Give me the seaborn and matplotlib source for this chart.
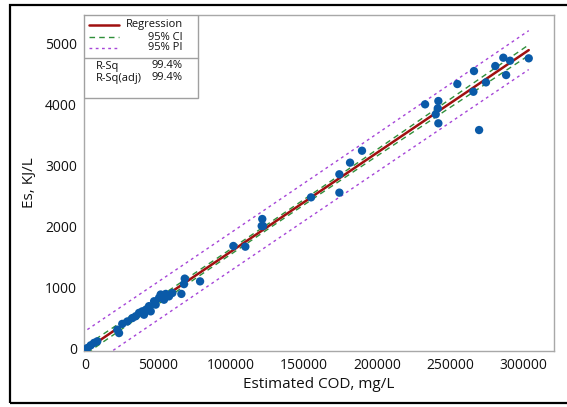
import numpy as np
import pandas as pd
import seaborn as sns
from matplotlib import pyplot as plt
from matplotlib.patches import Rectangle

# values
cod = [1600, 3900, 6200, 8400, 22100, 23300, 25500, 29000, 32400, 34700,
       37000, 39200, 40400, 41600, 43800, 45000, 47300, 48400, 50700, 51800,
       54100, 55300, 57500, 59800, 66000, 67800, 68300, 78800, 101600, 109800,
       121000, 121400, 121900, 154800, 174200, 174200, 181500, 189700, 232900, 240200,
       241600, 242000, 242000, 255000, 266000, 266400, 269900, 274600, 281000, 286500,
       288400, 291100, 303900]
es = [16, 60, 100, 125, 315, 260, 410, 450, 505, 535,
      590, 615, 560, 640, 700, 615, 780, 725, 835, 890,
      805, 900, 860, 915, 900, 1060, 1150, 1105, 1683, 1672,
      2010, 2124, 2010, 2478, 2855, 2555, 3045, 3240, 3998, 3835,
      3933, 4052, 3688, 4330, 4204, 4542, 3578, 4357, 4624, 4760,
      4477, 4711, 4750]
r_sq = 99.4
r_sq_adj = 99.4

df = pd.DataFrame({"COD": cod, "Es": es})

# least squares fit with 95% confidence / prediction bands
x = df["COD"].to_numpy(float)
y = df["Es"].to_numpy(float)
n = len(x)
b1, b0 = np.polyfit(x, y, 1)
resid = y - (b0 + b1 * x)
s = np.sqrt(np.sum(resid ** 2) / (n - 2))
t95 = 2.008
xm = x.mean()
sxx = np.sum((x - xm) ** 2)
xf = np.linspace(x.min(), x.max(), 200)
yf = b0 + b1 * xf
se_ci = s * np.sqrt(1 / n + (xf - xm) ** 2 / sxx)
se_pi = s * np.sqrt(1 + 1 / n + (xf - xm) ** 2 / sxx)

sns.set_style("white")
plt.rcParams['font.family'] = ['Open Sans', 'DejaVu Sans']

fig = plt.figure(figsize=(5.67, 4.07), dpi=100)
ax = fig.add_axes([84 / 567, 1 - 351 / 407, 470 / 567, 336 / 407])

red = "#a01010"
green = "#2f8f3a"
purple = "#a645d8"

sns.lineplot(x=xf, y=yf + t95 * se_pi, ax=ax, color=purple, lw=1, linestyle=(0, (2, 2.5)))
sns.lineplot(x=xf, y=yf - t95 * se_pi, ax=ax, color=purple, lw=1, linestyle=(0, (2, 2.5)))
sns.lineplot(x=xf, y=yf + t95 * se_ci, ax=ax, color=green, lw=1, linestyle=(0, (4, 3)))
sns.lineplot(x=xf, y=yf - t95 * se_ci, ax=ax, color=green, lw=1, linestyle=(0, (4, 3)))
sns.lineplot(x=xf, y=yf, ax=ax, color=red, lw=1.8)
sns.scatterplot(data=df, x="COD", y="Es", ax=ax, color="#0a5aa8", s=36,
                edgecolor="none", zorder=3)

ax.set_xlim(-700, 321200)
ax.set_ylim(-33, 5458)
ax.set_xticks(np.arange(0, 300001, 50000))
ax.set_yticks(np.arange(0, 5001, 1000))
ax.tick_params(axis="both", direction="out", length=3, width=0.8, color="#909090",
               labelsize=10, pad=2, labelcolor="#111111")
for sp in ax.spines.values():
    sp.set_color("#a8a8a8")
    sp.set_linewidth(1)
ax.set_xlabel("Estimated COD, mg/L", fontsize=11, color="#111111", labelpad=3)
ax.set_ylabel("Es, KJ/L", fontsize=11, color="#111111", labelpad=6)

# legend box in the upper left corner
bw = (198 - 84) / 470
bh = (98 - 15) / 336
ax.add_patch(Rectangle((0, 1 - bh), bw, bh, transform=ax.transAxes, facecolor="white",
                       edgecolor="#a0a0a0", lw=1, zorder=5))
sep = 1 - (58 - 15) / 336
ax.plot([0, bw], [sep, sep], transform=ax.transAxes, color="#a0a0a0", lw=1, zorder=6)

def yrow(py):
    return 1 - (py - 15) / 336

x1, x2 = (89 - 84) / 470, (119 - 84) / 470
xr = (183 - 84) / 470
entries = [("Regression", red, "-", 1.8, 25),
           ("95% CI", green, (0, (4, 3)), 1, 37),
           ("95% PI", purple, (0, (2, 2.5)), 1, 48)]
for label, col, ls, lw, py in entries:
    ax.plot([x1, x2], [yrow(py), yrow(py)], transform=ax.transAxes, color=col,
            linestyle=ls, lw=lw, zorder=6)
    ax.text(xr, yrow(py), label, transform=ax.transAxes, ha="right", va="center",
            fontsize=8, color="#111111", zorder=6)
xl = (96 - 84) / 470
for label, val, py in [("R-Sq", r_sq, 66), ("R-Sq(adj)", r_sq_adj, 78)]:
    ax.text(xl, yrow(py), label, transform=ax.transAxes, ha="left", va="center",
            fontsize=8, color="#111111", zorder=6)
    ax.text(xr, yrow(py), f"{val:.1f}%", transform=ax.transAxes, ha="right", va="center",
            fontsize=8, color="#111111", zorder=6)

# outer frame around the whole picture
fig.patches.append(Rectangle((10 / 567, 1 - 403 / 407), 560 / 567, 398 / 407,
                             transform=fig.transFigure, fill=False, edgecolor="black",
                             lw=1.6))

fig.savefig("out.png", dpi=100)
